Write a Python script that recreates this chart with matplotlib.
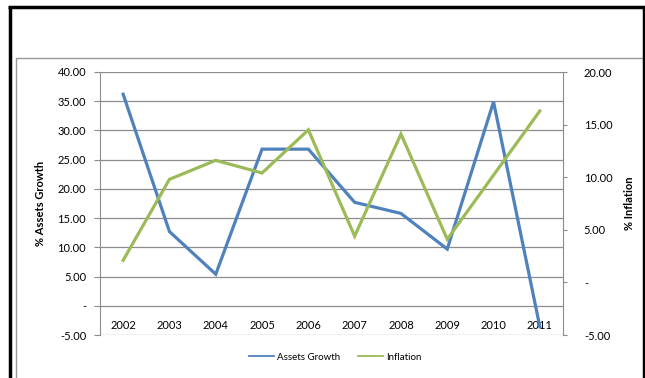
import matplotlib.pyplot as plt
from matplotlib.lines import Line2D
from matplotlib.patches import Rectangle
from matplotlib.ticker import FixedLocator, FuncFormatter

plt.rcParams["font.family"] = ["Lato", "DejaVu Sans"]

# ---------- data ----------
years = ["2002", "2003", "2004", "2005", "2006", "2007", "2008", "2009", "2010", "2011"]
assets_growth = [36.2, 12.7, 5.4, 26.8, 26.8, 17.7, 15.8, 9.7, 34.9, -3.6]
inflation = [2.1, 9.8, 11.6, 10.4, 14.5, 4.4, 14.1, 4.1, 10.2, 16.3]

left_ticks = [-5, 0, 5, 10, 15, 20, 25, 30, 35, 40]
right_ticks = [-5, 0, 5, 10, 15, 20]

blue = "#4F81BD"
green = "#9BBB59"
grid_grey = "#8C8C8C"


def excel_fmt(v, pos=None):
    # accounting style: zero shown as a dash
    if abs(v) < 1e-9:
        return "-"
    return f"{v:.2f}"


W, H = 645, 378
fig = plt.figure(figsize=(W / 100, H / 100), dpi=100)

ax = fig.add_axes([100 / W, 1 - 335 / H, 463 / W, 263 / H])
ax2 = ax.twinx()

x = list(range(len(years)))
ax.plot(x, assets_growth, color=blue, lw=2.3, solid_joinstyle="miter", zorder=3)
ax2.plot(x, inflation, color=green, lw=2.3, solid_joinstyle="miter", zorder=3)

ax.set_xlim(-0.5, len(years) - 0.5)
ax.set_ylim(-5, 40)
ax2.set_ylim(-5, 20)

ax.yaxis.set_major_locator(FixedLocator(left_ticks))
ax.yaxis.set_major_formatter(FuncFormatter(excel_fmt))
ax2.yaxis.set_major_locator(FixedLocator(right_ticks))
ax2.yaxis.set_major_formatter(FuncFormatter(excel_fmt))

ax.grid(axis="y", color=grid_grey, lw=0.9)
ax.set_axisbelow(True)

ax.set_xticks(x)
ax.set_xticklabels(years)
ax.tick_params(axis="x", length=0, pad=-11, labelsize=8, colors="black")
ax.tick_params(axis="y", length=4, width=0.8, color=grid_grey, labelsize=8, pad=6)
ax2.tick_params(axis="y", length=3, width=0.8, color=grid_grey, labelsize=8, pad=12)

for a in (ax, ax2):
    a.spines["top"].set_visible(False)
    a.spines["bottom"].set_visible(False)
    a.spines["left"].set_color(grid_grey)
    a.spines["right"].set_color(grid_grey)
ax.spines["right"].set_visible(False)
ax2.spines["left"].set_visible(False)

ax.set_ylabel("% Assets Growth", fontsize=8, fontweight="bold", labelpad=8)
ax2.set_ylabel("% Inflation", fontsize=8, fontweight="bold", rotation=90, labelpad=8)

# legend below the plot
handles = [Line2D([], [], color=blue, lw=1.3), Line2D([], [], color=green, lw=1.3)]
fig.legend(handles, ["Assets Growth", "Inflation"], loc="center",
           bbox_to_anchor=(335 / W, 1 - 357 / H), ncol=2, frameon=False,
           fontsize=7, handlelength=2.6, handletextpad=0.3, columnspacing=1.8)

# chart area border and outer frame
fig.add_artist(Rectangle((16 / W, -0.1), 1.0, (1 - 58 / H) + 0.1,
                         transform=fig.transFigure, fill=False,
                         edgecolor="#999999", lw=1.0))
fig.add_artist(Line2D([9.5 / W, 9.5 / W], [0, 1 - 7 / H], transform=fig.transFigure,
                      color="black", lw=2.5, solid_capstyle="butt"))
fig.add_artist(Line2D([8 / W, 1], [1 - 7 / H, 1 - 7 / H], transform=fig.transFigure,
                      color="black", lw=2.5, solid_capstyle="butt"))
fig.add_artist(Line2D([643.5 / W, 643.5 / W], [0, 1 - 7 / H], transform=fig.transFigure,
                      color="black", lw=2.5, solid_capstyle="butt"))

fig.savefig("out.png", dpi=100)
